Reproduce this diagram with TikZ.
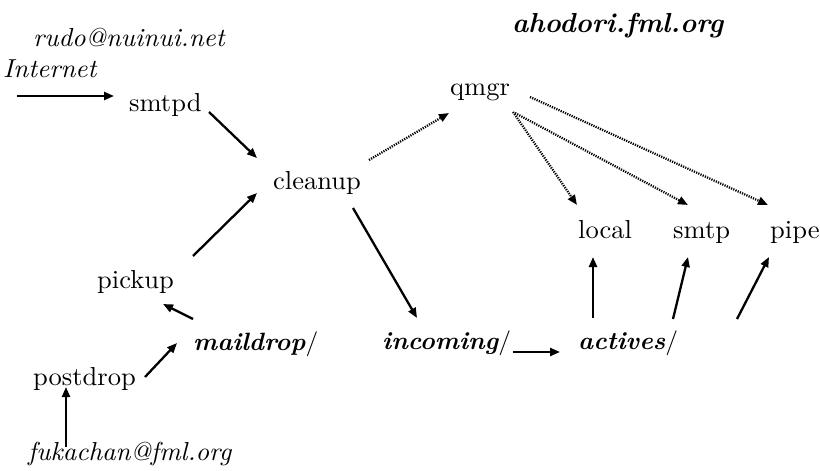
\documentclass[tikz,border=0pt]{standalone}
\usepackage{fontspec}
\setmainfont{lmroman10-regular.otf}[BoldFont=lmroman10-bold.otf, ItalicFont=lmroman10-italic.otf, BoldItalicFont=lmroman10-bolditalic.otf, FakeStretch=1.02]
\newfontfamily\titlefont{lmroman10-bolditalic.otf}
\usetikzlibrary{arrows.meta,calc}
\tikzset{
  lbl/.style={inner sep=0pt, anchor=base west, font=\fontsize{26}{30}\selectfont},
  itl/.style={lbl, font=\fontsize{26}{30}\selectfont\itshape},
  dir/.style={lbl, font=\fontsize{25}{30}\selectfont\bfseries\itshape},
  arr/.style={line width=2.3pt, -{Triangle[length=10pt,width=8pt]}},
  darr/.style={line width=2.3pt, dash pattern=on 1.2pt off 1.2pt, -{Triangle[length=10pt,width=8pt]}}
}
\begin{document}
\begin{tikzpicture}[x=1pt,y=-1pt]
\useasboundingbox (0,0) rectangle (820,471);
% labels
\node[inner sep=0pt, anchor=base west, font=\fontsize{27.5}{32}\selectfont\titlefont] (title) at (512,32) {ahodori.fml.org};
\node[itl] (rudo) at (33,46) {rudo@nuinui.net};
\node[itl] (inet) at (3,77) {Internet};
\node[lbl] (smtpd) at (129,111) {smtpd};
\node[lbl] (cleanup) at (273,189) {cleanup};
\node[lbl] (qmgr) at (450,95) {qmgr};
\node[lbl] (local) at (578,238) {local};
\node[lbl] (smtp) at (673,238) {smtp};
\node[lbl] (pipe) at (770,238) {pipe};
\node[lbl] (pickup) at (97,288) {pickup};
\node[dir] (maildrop) at (193,350) {maildrop{\normalfont/}};
\node[dir] (incoming) at (382,349) {incoming{\normalfont/}};
\node[dir] (actives) at (578,349) {actives{\normalfont/}};
\node[lbl] (postdrop) at (33,385) {postdrop};
\node[itl] (fuka) at (28,460) {fukachan@fml.org};
% solid arrows
\draw[arr] ($(inet.base west)+(14,19)$) -- ($(smtpd.base west)+(-15,-15)$);
\draw[arr] ($(smtpd.base west)+(80,1)$) -- ($(cleanup.base west)+(-16,-31)$);
\draw[arr] ($(pickup.base west)+(96,-32)$) -- ($(cleanup.base west)+(-16,4)$);
\draw[arr] ($(maildrop.base west)+(0,-31)$) -- ($(pickup.base west)+(66,16)$);
\draw[arr] ($(postdrop.base west)+(112,-8)$) -- ($(maildrop.base west)+(-16,-7)$);
\draw[arr] ($(fuka.base west)+(38,-13)$) -- ($(postdrop.base west)+(33,2)$);
\draw[arr] ($(cleanup.base west)+(80,19)$) -- ($(incoming.base west)+(35,-31)$);
\draw[arr] ($(incoming.base west)+(131,3)$) -- ($(actives.base west)+(-18,3)$);
\draw[arr] ($(actives.base west)+(15,-31)$) -- ($(local.base west)+(15,19)$);
\draw[arr] ($(actives.base west)+(95,-30)$) -- ($(smtp.base west)+(15,19)$);
\draw[arr] ($(actives.base west)+(159,-30)$) -- ($(pipe.base west)+(-1,19)$);
% dotted arrows
\draw[darr] ($(cleanup.base west)+(96,-29)$) -- ($(qmgr.base west)+(-1,18)$);
\draw[darr] ($(qmgr.base west)+(63,17)$) -- ($(local.base west)+(-1,-33)$);
\draw[darr] ($(qmgr.base west)+(65,18)$) -- ($(smtp.base west)+(15,-33)$);
\draw[darr] ($(qmgr.base west)+(80,2)$) -- ($(pipe.base west)+(-2,-33)$);
\end{tikzpicture}
\end{document}
